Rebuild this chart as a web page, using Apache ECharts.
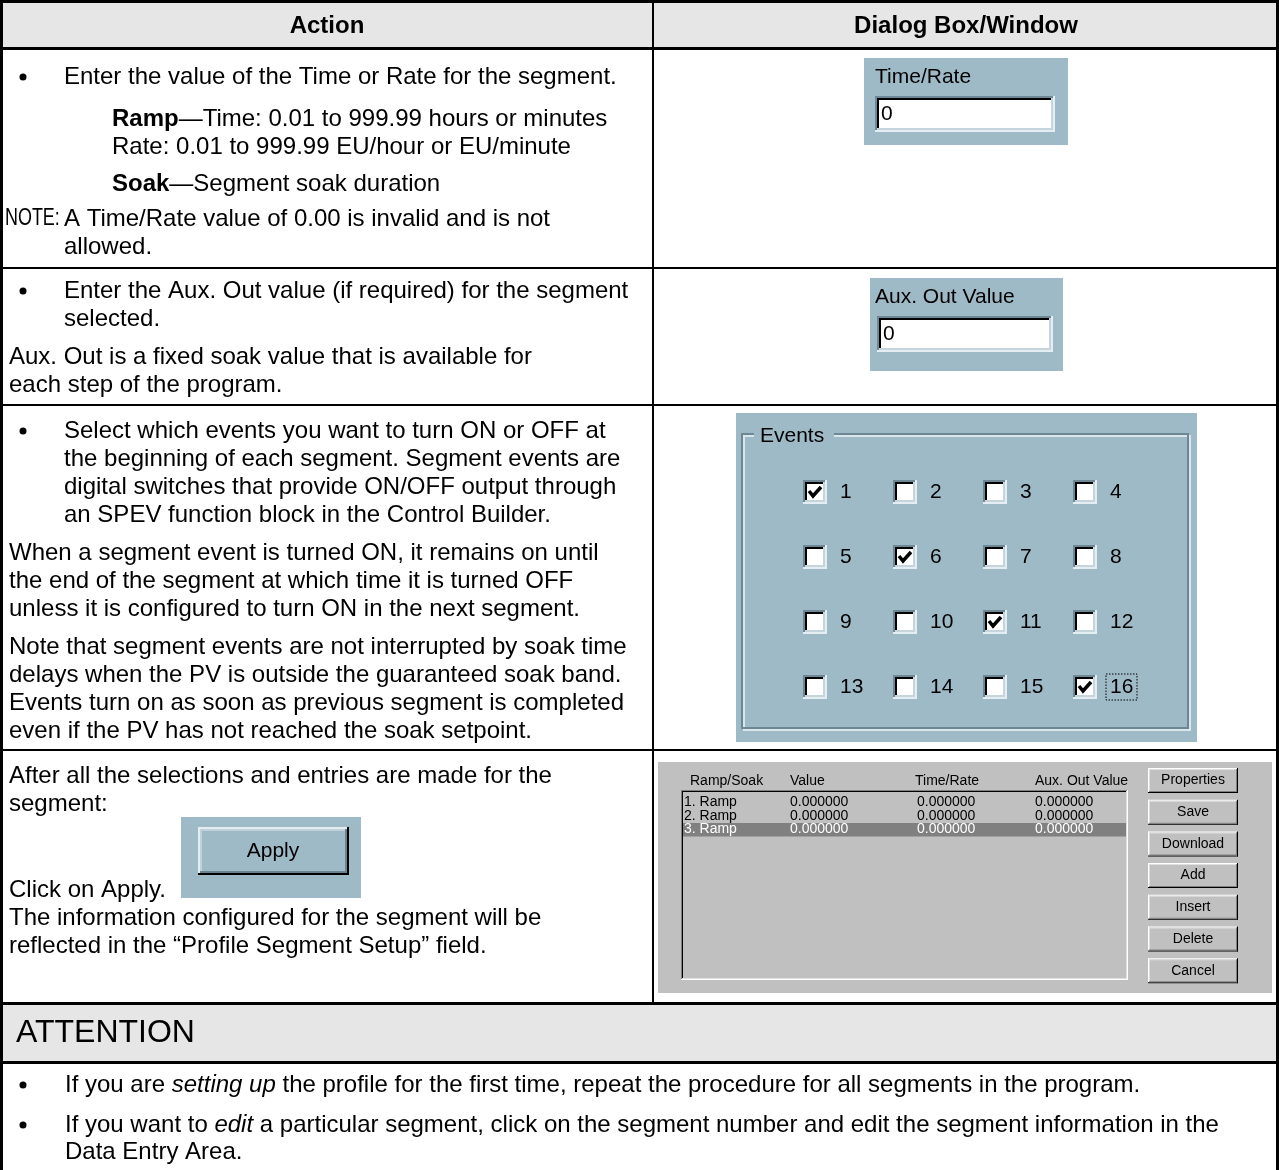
<!DOCTYPE html>
<html><head><meta charset="utf-8">
<script src="https://cdn.jsdelivr.net/npm/echarts@6/dist/echarts.min.js"></script>
<style>html,body{margin:0;padding:0;background:#fff}#c{width:1279px;height:1170px}</style>
</head><body><div id="c"></div>
<script>
// ---------- content ----------
const headerLabels = ['Action', 'Dialog Box/Window'];
const timeRateLines = [
  'Enter the value of the Time or Rate for the segment.',
  '{b|Ramp}—Time: 0.01 to 999.99 hours or minutes',
  'Rate: 0.01 to 999.99 EU/hour or EU/minute',
  '{b|Soak}—Segment soak duration',
  'A Time/Rate value of 0.00 is invalid and is not',
  'allowed.'
];
const noteLabel = 'NOTE:';
const auxLines = [
  'Enter the Aux. Out value (if required) for the segment',
  'selected.',
  'Aux. Out is a fixed soak value that is available for',
  'each step of the program.'
];
const eventLines = [
  'Select which events you want to turn ON or OFF at',
  'the beginning of each segment. Segment events are',
  'digital switches that provide ON/OFF output through',
  'an SPEV function block in the Control Builder.',
  'When a segment event is turned ON, it remains on until',
  'the end of the segment at which time it is turned OFF',
  'unless it is configured to turn ON in the next segment.',
  'Note that segment events are not interrupted by soak time',
  'delays when the PV is outside the guaranteed soak band.',
  'Events turn on as soon as previous segment is completed',
  'even if the PV has not reached the soak setpoint.'
];
const applyLines = [
  'After all the selections and entries are made for the',
  'segment:',
  'Click on Apply.',
  'The information configured for the segment will be',
  'reflected in the “Profile Segment Setup” field.'
];
const attentionTitle = 'ATTENTION';
const attentionLines = [
  'If you are {i|setting up} the profile for the first time, repeat the procedure for all segments in the program.',
  'If you want to {i|edit} a particular segment, click on the segment number and edit the segment information in the',
  'Data Entry Area.'
];
const dialogLabels = ['Time/Rate', 'Aux. Out Value'];
const dialogValues = ['0', '0'];
const eventsTitle = 'Events';
const eventNumbers = [1, 2, 3, 4, 5, 6, 7, 8, 9, 10, 11, 12, 13, 14, 15, 16];
const eventChecked = [1, 0, 0, 0, 0, 1, 0, 0, 0, 0, 1, 0, 0, 0, 0, 1];
const eventFocused = 16;
const applyLabel = 'Apply';
const listColumns = ['Ramp/Soak', 'Value', 'Time/Rate', 'Aux. Out Value'];
const listRows = [
  ['1. Ramp', '0.000000', '0.000000', '0.000000'],
  ['2. Ramp', '0.000000', '0.000000', '0.000000'],
  ['3. Ramp', '0.000000', '0.000000', '0.000000']
];
const listSelected = 2;
const listButtons = ['Properties', 'Save', 'Download', 'Add', 'Insert', 'Delete', 'Cancel'];

// ---------- layout ----------
const W = 1279, H = 1170;
const FONT = '"Liberation Sans", Arial, Helvetica, sans-serif';
const DLG = '#9fbac7';
const timeRateLayout = [[64, 77], [112, 119], [112, 147], [112, 184], [64, 219], [64, 247]];
const auxLayout = [[64, 291], [64, 319], [9, 357], [9, 385]];
const eventLayoutY = [431, 459, 487, 515, 553, 581, 609, 647, 675, 703, 731];
const eventLayoutX = [64, 64, 64, 64, 9, 9, 9, 9, 9, 9, 9];
const applyLayout = [[9, 776], [9, 804], [9, 890], [9, 918], [9, 946]];
const attentionLayout = [[65, 1085], [65, 1125], [65, 1152]];
const listColX = [690, 790, 915, 1035];
const listRowX = [684, 790, 917, 1035];

function R(x, y, w, h, fill) {
  return { type: 'rect', silent: true, shape: { x: x, y: y, width: w, height: h }, style: { fill: fill } };
}
function F(x, y, w, h, stroke, lw, dash) {
  return { type: 'rect', silent: true, shape: { x: x, y: y, width: w, height: h },
    style: { fill: null, stroke: stroke, lineWidth: lw || 1, lineDash: dash || null } };
}
function T(x, y, text, o) {
  o = o || {};
  const fs = o.fontSize || 24;
  const ff = o.fontFamily || FONT;
  const fill = o.fill || '#000';
  const el = { type: 'text', silent: true, x: x, y: y, z: 5,
    style: { text: text, fill: fill, fontSize: fs, fontFamily: ff, fontWeight: o.fontWeight || 'normal',
      align: o.align || 'left', verticalAlign: 'middle',
      rich: { b: { fontWeight: 'bold', fontSize: fs, fontFamily: ff, fill: fill },
              i: { fontStyle: 'italic', fontSize: fs, fontFamily: ff, fill: fill } } } };
  if (o.scaleX) { el.scaleX = o.scaleX; }
  return el;
}
function bevel(x, y, w, h, fill, tl1, tl2, br1, br2, t) {
  return [
    R(x, y, w, h, fill),
    R(x, y, w, t, tl1), R(x, y, t, h, tl1),
    R(x + t, y + t, w - 2 * t, t, tl2), R(x + t, y + t, t, h - 2 * t, tl2),
    R(x, y + h - t, w, t, br1), R(x + w - t, y, t, h, br1),
    R(x + t, y + h - 2 * t, w - 2 * t, t, br2), R(x + w - 2 * t, y + t, t, h - 2 * t, br2)
  ];
}
function bullet(y) {
  return { type: 'circle', silent: true, shape: { cx: 23, cy: y, r: 3.5 }, style: { fill: '#000' } };
}

const els = [];
// bands
els.push(R(0, 0, W, 49, '#e6e6e6'));
els.push(R(0, 1003, W, 59, '#e6e6e6'));

// header
els.push(T(327, 26, headerLabels[0], { fontWeight: 'bold', align: 'center' }));
els.push(T(966, 26, headerLabels[1], { fontWeight: 'bold', align: 'center' }));

// row 1
timeRateLines.forEach(function (s, i) { els.push(T(timeRateLayout[i][0], timeRateLayout[i][1], s)); });
els.push(bullet(timeRateLayout[0][1]));
els.push(T(5, timeRateLayout[4][1], noteLabel, { fontSize: 23, scaleX: 0.78 }));
// row 2
auxLines.forEach(function (s, i) { els.push(T(auxLayout[i][0], auxLayout[i][1], s)); });
els.push(bullet(auxLayout[0][1]));
// row 3
eventLines.forEach(function (s, i) { els.push(T(eventLayoutX[i], eventLayoutY[i], s)); });
els.push(bullet(eventLayoutY[0]));
// row 4
applyLines.forEach(function (s, i) { els.push(T(applyLayout[i][0], applyLayout[i][1], s)); });
// attention
els.push(T(16, 1033, attentionTitle, { fontSize: 32 }));
attentionLines.forEach(function (s, i) { els.push(T(attentionLayout[i][0], attentionLayout[i][1], s)); });
els.push(bullet(attentionLayout[0][1]));
els.push(bullet(attentionLayout[1][1]));

// Time/Rate dialog
els.push(R(864, 58, 204, 87, DLG));
els.push(T(875, 77, dialogLabels[0], { fontSize: 21 }));
bevel(875, 96, 180, 36, '#fff', '#6f8895', '#000', '#e4edf1', '#c6d5dc', 2).forEach(function (e) { els.push(e); });
els.push(T(881, 114, dialogValues[0], { fontSize: 21 }));
// Aux dialog
els.push(R(870, 278, 193, 93, DLG));
els.push(T(875, 297, dialogLabels[1], { fontSize: 21 }));
bevel(877, 316, 176, 36, '#fff', '#6f8895', '#000', '#e4edf1', '#c6d5dc', 2).forEach(function (e) { els.push(e); });
els.push(T(883, 334, dialogValues[1], { fontSize: 21 }));

// Events dialog
els.push(R(736, 413, 461, 329, DLG));
els.push(F(744, 436, 446, 294, '#dbe6eb', 2));
els.push(F(742, 434, 446, 294, '#6d8795', 2));
els.push(R(754, 424, 80, 20, DLG));
els.push(T(760, 436, eventsTitle, { fontSize: 21 }));

// Apply image
els.push(R(181, 817, 180, 81, DLG));
bevel(198, 827, 151, 48, DLG, '#e3edf2', '#bfd1da', '#000', '#6a8491', 2).forEach(function (e) { els.push(e); });
els.push(T(273, 851, applyLabel, { fontSize: 21, align: 'center' }));

// List dialog
els.push(R(658, 762, 614, 231, '#c0c0c0'));
listColumns.forEach(function (s, i) { els.push(T(listColX[i], 781, s, { fontSize: 14 })); });
bevel(681, 790, 447, 190, '#c0c0c0', '#808080', '#000', '#fff', '#dfdfdf', 1).forEach(function (e) { els.push(e); });
els.push(R(683, 823, 443, 13.5, '#808080'));
listRows.forEach(function (row, r) {
  row.forEach(function (s, c) {
    els.push(T(listRowX[c], 802.5 + r * 13.5, s, { fontSize: 14, fill: r === listSelected ? '#fff' : '#000' }));
  });
});
listButtons.forEach(function (s, i) {
  const y = 768 + i * 31.7;
  bevel(1148, y, 90, 25, '#c0c0c0', '#fff', '#dfdfdf', '#000', '#808080', 1).forEach(function (e) { els.push(e); });
  els.push(T(1193, y + 12.5, s, { fontSize: 14, align: 'center' }));
});

// table lines (table continues past the bottom edge: no bottom rule)
els.push(R(0, 0, W, 3, '#000'));
els.push(R(0, 0, 3, H, '#000'));
els.push(R(W - 3, 0, 3, H, '#000'));
els.push(R(0, 47, W, 3, '#000'));
els.push(R(0, 267, W, 2, '#000'));
els.push(R(0, 404, W, 2, '#000'));
els.push(R(0, 749, W, 2, '#000'));
els.push(R(0, 1002, W, 3, '#000'));
els.push(R(0, 1061, W, 3, '#000'));
els.push(R(652, 0, 2, 1003, '#000'));

// checkbox data through a hidden grid
const eventData = eventNumbers.map(function (n, i) { return [i % 4, Math.floor(i / 4), n, eventChecked[i]]; });

const chart = echarts.init(document.getElementById('c'), null, { renderer: 'canvas' });
chart.setOption({
  animation: false,
  backgroundColor: '#fff',
  grid: { left: 770, top: 459.5, width: 360, height: 260 },
  xAxis: { type: 'value', min: -0.5, max: 3.5, show: false },
  yAxis: { type: 'value', min: -0.5, max: 3.5, inverse: true, show: false },
  graphic: { elements: els },
  series: [{
    type: 'custom', z: 10, silent: true,
    encode: { x: 0, y: 1 },
    data: eventData,
    renderItem: function (params, api) {
      const c = api.coord([api.value(0), api.value(1)]);
      const num = api.value(2), chk = api.value(3);
      const s = 24, x0 = Math.round(c[0] - s / 2), y0 = Math.round(c[1] - s / 2);
      const box = function (x, y, w, h, f) { return { type: 'rect', shape: { x: x, y: y, width: w, height: h }, style: { fill: f } }; };
      const ch = [
        box(x0, y0, s, s, '#fff'),
        box(x0, y0, s, 2, '#6f8895'), box(x0, y0, 2, s, '#6f8895'),
        box(x0 + 2, y0 + 2, s - 4, 2, '#000'), box(x0 + 2, y0 + 2, 2, s - 4, '#000'),
        box(x0, y0 + s - 2, s, 2, '#e4edf1'), box(x0 + s - 2, y0, 2, s, '#e4edf1'),
        box(x0 + 2, y0 + s - 4, s - 4, 2, '#c6d5dc'), box(x0 + s - 4, y0 + 2, 2, s - 4, '#c6d5dc')
      ];
      if (chk) {
        ch.push({ type: 'polyline', shape: { points: [[x0 + 6, y0 + 11], [x0 + 10, y0 + 16], [x0 + 18, y0 + 7]] },
          style: { stroke: '#000', lineWidth: 3.5, fill: null } });
      }
      ch.push({ type: 'text', x: x0 + 37, y: c[1], style: { text: String(num), fontSize: 21, fontFamily: FONT, fill: '#000', verticalAlign: 'middle' } });
      if (num === eventFocused) {
        ch.push({ type: 'rect', shape: { x: x0 + 33, y: y0 - 1, width: 31, height: 26 },
          style: { fill: null, stroke: '#000', lineWidth: 1, lineDash: [1.5, 1.5] } });
      }
      return { type: 'group', children: ch };
    }
  }]
});
</script></body></html>
